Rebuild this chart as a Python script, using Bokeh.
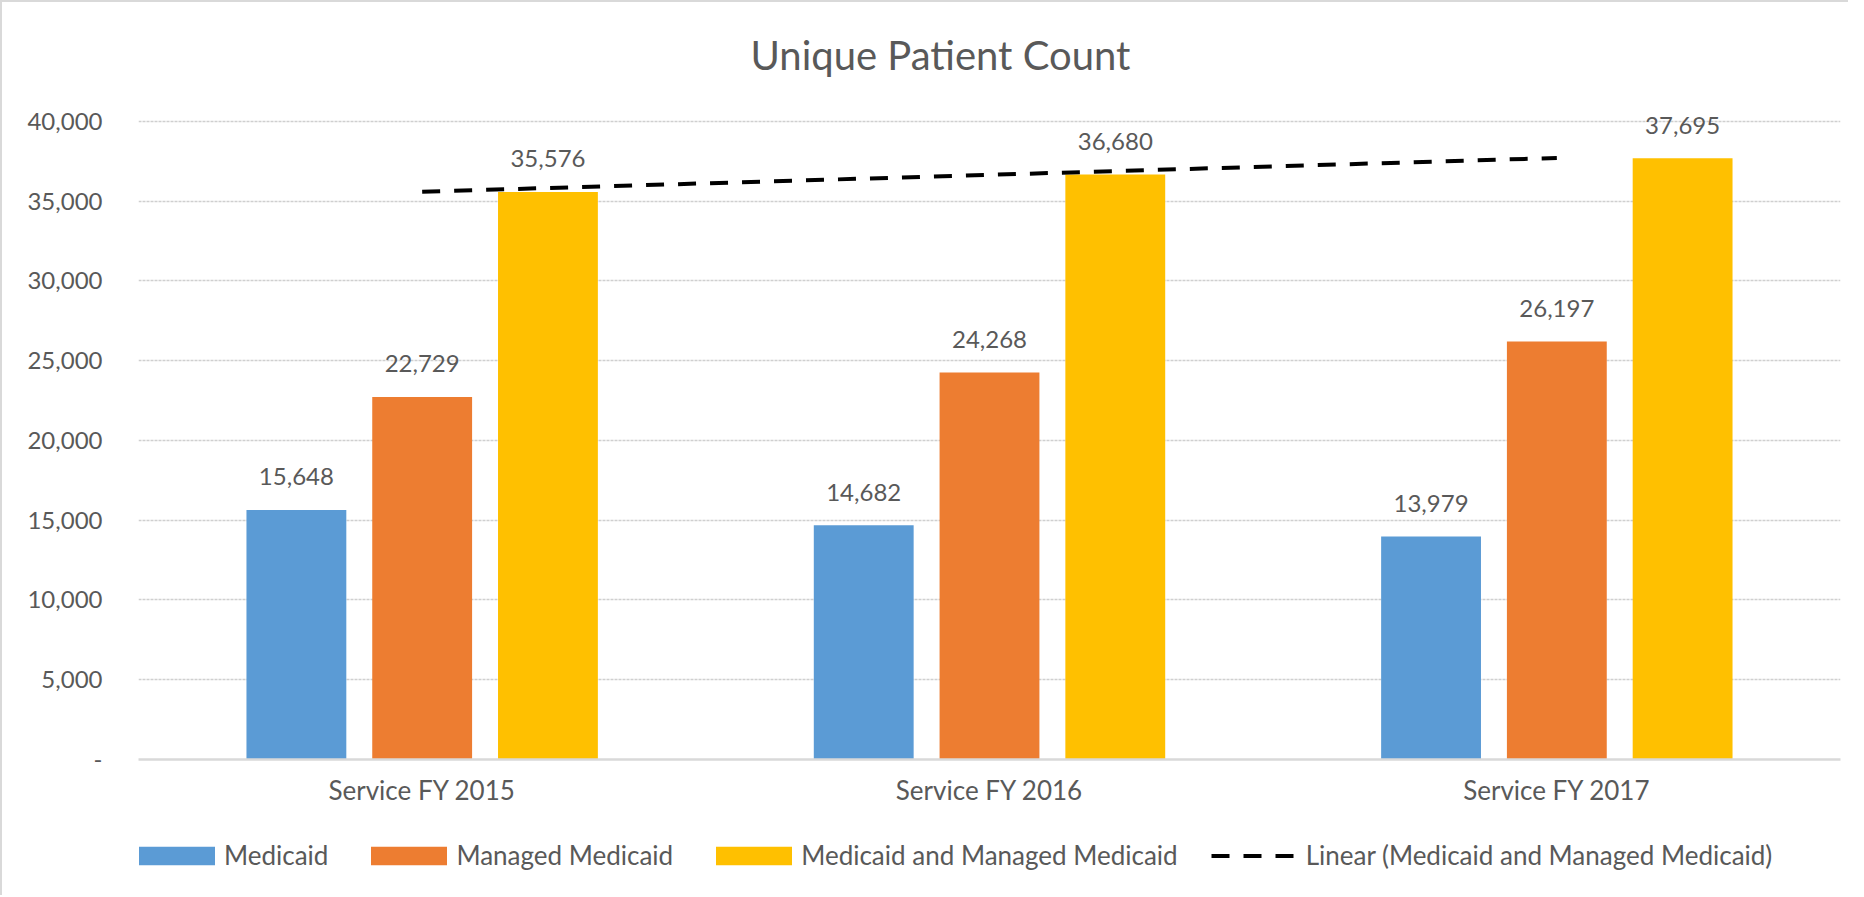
import numpy as np
from bokeh.plotting import figure
from bokeh.layouts import column
from bokeh.models import (ColumnDataSource, FactorRange, Range1d, FixedTicker,
                          Legend, LegendItem)
from bokeh.transform import dodge
from bokeh.core.properties import value
from bokeh.embed import file_html
from bokeh.resources import INLINE

# ---- data ----
categories = ["Service FY 2015", "Service FY 2016", "Service FY 2017"]
medicaid = [15648, 14682, 13979]
managed_medicaid = [22729, 24268, 26197]
combined = [35576, 36680, 37695]
series_names = ["Medicaid", "Managed Medicaid", "Medicaid and Managed Medicaid"]
trend_name = "Linear (Medicaid and Managed Medicaid)"
y_ticks = [0, 5000, 10000, 15000, 20000, 25000, 30000, 35000, 40000]
y_tick_labels = ["-", "5,000", "10,000", "15,000", "20,000", "25,000", "30,000", "35,000", "40,000"]
title_text = "Unique Patient Count"

# ---- styles ----
FONT = "Lato"
TXT = "#595959"
colors = ["#5B9BD5", "#ED7D31", "#FFC000"]
step = 0.2217
bar_w = 0.176
NUM_SIZE = "24px"
LBL_SIZE = "26px"

src = ColumnDataSource(dict(
    cat=categories,
    m=medicaid, mm=managed_medicaid, c=combined,
    m_lbl=[f"{v:,}" for v in medicaid],
    mm_lbl=[f"{v:,}" for v in managed_medicaid],
    c_lbl=[f"{v:,}" for v in combined],
))

# y range reaches a little above the top gridline so the top data label is not clipped
p = figure(width=1846, height=818, x_range=FactorRange(*categories, range_padding=0),
           y_range=Range1d(0, 41500), output_backend="svg", toolbar_location=None,
           min_border_left=136, min_border_right=8, min_border_top=95, min_border_bottom=61)

p.title.text = title_text
p.title.align = "left"
p.title.offset = 612
p.title.text_font = FONT
p.title.text_font_size = "40px"
p.title.text_font_style = "normal"
p.title.text_color = TXT
p.title.standoff = 38

fields = ["m", "mm", "c"]
lbls = ["m_lbl", "mm_lbl", "c_lbl"]
offsets = [-step, 0.0, step]
for f, l, off, col in zip(fields, lbls, offsets, colors):
    p.vbar(x=dodge("cat", off, range=p.x_range), top=f, width=bar_w, source=src,
           fill_color=col, line_color=None)
    p.text(x=dodge("cat", off, range=p.x_range), y=f, text=l, source=src,
           text_align="center", text_baseline="alphabetic", y_offset=-33,
           text_font=value(FONT), text_font_size=NUM_SIZE, text_color=TXT)

# linear trend of combined series
xs = np.arange(len(combined))
slope, intercept = np.polyfit(xs, combined, 1)
trend = slope * xs + intercept
p.line(x=categories, y=trend, line_color="black", line_width=4, line_dash="18 14")

# axes & grid
p.outline_line_color = None
p.xgrid.grid_line_color = None
p.ygrid.ticker = FixedTicker(ticks=y_ticks)
p.ygrid.grid_line_color = "#cfcfcf"
p.ygrid.grid_line_width = 1.5
p.ygrid.grid_line_dash = "3 1"

p.yaxis.ticker = FixedTicker(ticks=y_ticks)
p.yaxis.major_label_overrides = {t: s for t, s in zip(y_ticks, y_tick_labels)}
p.yaxis.axis_line_color = None
p.yaxis.major_tick_line_color = None
p.yaxis.minor_tick_line_color = None
p.yaxis.major_label_standoff = 30
p.yaxis.major_label_text_font = FONT
p.yaxis.major_label_text_font_size = NUM_SIZE
p.yaxis.major_label_text_color = TXT

p.xaxis.axis_line_color = "#d9d9d9"
p.xaxis.axis_line_width = 2.5
p.xaxis.major_tick_line_color = None
p.xaxis.minor_tick_line_color = None
p.xaxis.major_label_standoff = 8
p.xaxis.major_label_text_font = FONT
p.xaxis.major_label_text_font_size = LBL_SIZE
p.xaxis.major_label_text_color = TXT

# ---- legend strip (separate figure so it is not clipped) ----
lg = figure(width=1846, height=75, x_range=Range1d(0, 1), y_range=Range1d(0, 1),
            output_backend="svg", toolbar_location=None, min_border=0,
            x_axis_location=None, y_axis_location=None)
lg.outline_line_color = None
lg.grid.visible = False
# zero-height placeholder renderers: they only provide the legend swatches
dummy = ColumnDataSource(dict(x=[0.5], y=[0.0]))
legend_renderers = [lg.vbar(x="x", top="y", bottom="y", width=0.1, source=dummy,
                            fill_color=c, line_color=None) for c in colors]
legend_renderers.append(lg.line(x="x", y="y", source=dummy, line_color="black",
                                line_width=4, line_dash="18 14"))
items = [LegendItem(label=n, renderers=[r])
         for n, r in zip(series_names + [trend_name], legend_renderers)]
legend = Legend(items=items, orientation="horizontal", location=(-9, 24),
                glyph_width=95, glyph_height=23, label_standoff=0, spacing=33,
                padding=0, margin=0, border_line_color=None, background_fill_alpha=0,
                label_text_font=FONT, label_text_font_size=LBL_SIZE, label_text_color=TXT)
lg.add_layout(legend)

layout = column(p, lg, spacing=0)
layout.styles = {"border-left": "2px solid #d9d9d9", "border-top": "2px solid #d9d9d9"}

open("out.html", "w").write(file_html(layout, INLINE))
